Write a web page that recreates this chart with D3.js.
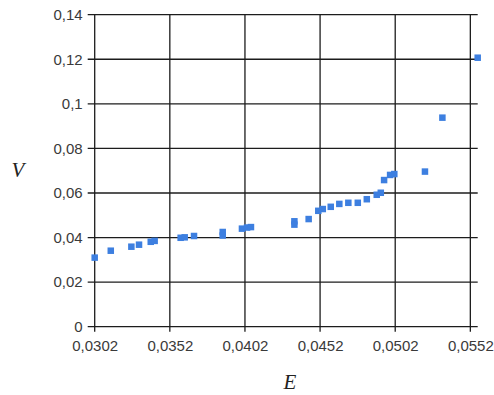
<!DOCTYPE html>
<html>
<head>
<meta charset="utf-8">
<script src="https://cdn.jsdelivr.net/npm/d3@7"></script>
<style>
  html, body { margin: 0; padding: 0; background: #fff; }
  svg { display: block; }
</style>
</head>
<body>
<svg id="chart" width="494" height="395"></svg>
<script>
// Measured points: E (strain) vs V
const E = [0.0302, 0.03127, 0.03264, 0.03315, 0.03393, 0.03419, 0.03592, 0.03619, 0.03681,
           0.03872, 0.03872, 0.04000, 0.04034, 0.04060, 0.04349, 0.04349, 0.04444,
           0.04508, 0.04538, 0.04591, 0.04648, 0.04708, 0.04771, 0.04831, 0.04897,
           0.04924, 0.04946, 0.04986, 0.05014, 0.05218, 0.05334, 0.05569];
const V = [0.0310, 0.0341, 0.0359, 0.0368, 0.0381, 0.0385, 0.0399, 0.0401, 0.0407,
           0.0425, 0.0409, 0.0440, 0.0445, 0.0447, 0.0473, 0.0458, 0.0483,
           0.0520, 0.0528, 0.0538, 0.0551, 0.0556, 0.0556, 0.0572, 0.0592,
           0.0601, 0.0658, 0.0681, 0.0685, 0.0696, 0.0938, 0.1207];

const xTicks = [0.0302, 0.0352, 0.0402, 0.0452, 0.0502, 0.0552];
const yTicks = [0, 0.02, 0.04, 0.06, 0.08, 0.1, 0.12, 0.14];

(function () {
  const plotL = 94.7, plotR = 477.7, plotT = 14.7, plotB = 326.7;

  const svg = d3.select("#chart");
  const x = d3.scaleLinear().domain([xTicks[0], d3.max(E)]).range([plotL, plotR]);
  const y = d3.scaleLinear().domain([0, 0.14]).range([plotB, plotT]);

  const loc = d3.formatLocale({ decimal: ",", thousands: " ", grouping: [3], currency: ["", ""] });
  const fy = loc.format("~g");
  const fx = loc.format(".4f");

  const gridColor = "#1c1c1c";

  // horizontal grid lines, including short ticks left of the axis
  svg.append("g").selectAll("line").data(yTicks).join("line")
    .attr("x1", plotL - 7).attr("x2", plotR)
    .attr("y1", d => y(d)).attr("y2", d => y(d))
    .attr("stroke", gridColor).attr("stroke-width", 1.3);

  // vertical grid lines, including short ticks below the axis
  svg.append("g").selectAll("line").data(xTicks).join("line")
    .attr("x1", d => x(d)).attr("x2", d => x(d))
    .attr("y1", plotT).attr("y2", plotB + 5)
    .attr("stroke", gridColor).attr("stroke-width", 1.3);

  // y axis labels
  const yAxis = d3.axisLeft(y).tickValues(yTicks).tickFormat(fy).tickSize(0).tickPadding(12);
  const gy = svg.append("g").attr("transform", `translate(${plotL},0)`).call(yAxis);
  gy.select(".domain").remove();
  gy.selectAll("text").attr("font-family", "Liberation Sans, Arial, sans-serif")
    .attr("font-size", 15).attr("fill", "#3a3a3a");

  // x axis labels
  const xAxis = d3.axisBottom(x).tickValues(xTicks).tickFormat(fx).tickSize(0).tickPadding(14);
  const gx = svg.append("g").attr("transform", `translate(0,${plotB})`).call(xAxis);
  gx.select(".domain").remove();
  gx.selectAll("text").attr("font-family", "Liberation Sans, Arial, sans-serif")
    .attr("font-size", 15).attr("fill", "#3a3a3a");

  // data markers
  const s = 6.5;
  svg.append("g").selectAll("rect").data(E.map((e, i) => [e, V[i]])).join("rect")
    .attr("x", d => x(d[0]) - s / 2).attr("y", d => y(d[1]) - s / 2)
    .attr("width", s).attr("height", s)
    .attr("fill", "#3d7fe0");

  // axis titles
  svg.append("text").attr("x", 290).attr("y", 389).attr("text-anchor", "middle")
    .attr("font-family", "Liberation Serif, Times New Roman, serif")
    .attr("font-style", "italic").attr("font-size", 21).attr("fill", "#222").text("E");
  svg.append("text").attr("x", 18).attr("y", 177).attr("text-anchor", "middle")
    .attr("font-family", "Liberation Serif, Times New Roman, serif")
    .attr("font-style", "italic").attr("font-size", 21).attr("fill", "#222").text("V");
})();
</script>
</body>
</html>
